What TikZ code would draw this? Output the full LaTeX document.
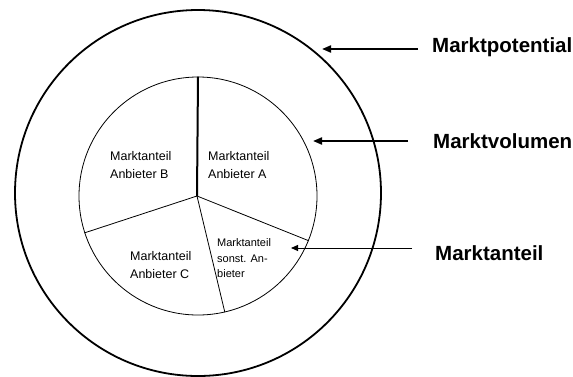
\documentclass[tikz,border=0pt]{standalone}
\usepackage{fontspec}
\setmainfont{Liberation Sans}
\usetikzlibrary{arrows.meta, positioning}

\begin{document}
\begin{tikzpicture}[x=1pt, y=-1pt, >=Stealth]
    \tikzset{
        ring/.style={draw, circle, inner sep=0pt},
        slice/.style={draw, line width=0.8pt},
        share/.style={font=\fontsize{12.5}{18}\selectfont, align=left, anchor=west, inner sep=0pt},
        biglabel/.style={font=\fontsize{20.5}{24}\selectfont\bfseries, anchor=west, inner sep=0pt},
        pointer/.style={line width=2pt, -{Triangle[length=9pt, width=7pt]}},
    }
    \useasboundingbox (0,0) rectangle (573,376);

    \node[ring, line width=1.8pt, minimum size=366pt] (pot) at (198,193) {};
    \node[ring, line width=0.8pt, minimum size=238pt] (vol) at (198,196) {};
    \coordinate (ctr) at (197,196);

    \draw[slice, line width=2pt] (ctr) -- (vol.90);
    \draw[slice] (ctr) -- (vol.-22);
    \draw[slice] (ctr) -- (vol.-162);
    \draw[slice] (ctr) -- (vol.-77);

    \node[share] (shB) at (110,165.5) {Marktanteil\\Anbieter B};
    \node[share] (shA) at (208,165.5) {Marktanteil\\Anbieter A};
    \node[share] (shC) at (130,265.5) {Marktanteil\\Anbieter C};
    \node[share, font=\fontsize{11}{15.5}\selectfont] (shS) at (217,258.5) {Marktanteil\\sonst. An-\\bieter};

    \node[biglabel] (lpot) at (432,47) {Marktpotential};
    \node[biglabel] (lvol) at (433,141) {Marktvolumen};
    \node[biglabel] (lant) at (435,253) {Marktanteil};

    \coordinate (pot-from) at (418,49);
    \coordinate (pot-to) at (322,49);
    \coordinate (vol-from) at (408,141);
    \coordinate (vol-to) at (313,141);
    \coordinate (ant-from) at (412,248);
    \coordinate (ant-to) at (291,248);

    \draw[pointer] (pot-from) -- (pot-to);
    \draw[pointer] (vol-from) -- (vol-to);
    \draw[pointer, line width=1pt, -{Triangle[length=7pt, width=6pt]}] (ant-from) -- (ant-to);
\end{tikzpicture}
\end{document}
